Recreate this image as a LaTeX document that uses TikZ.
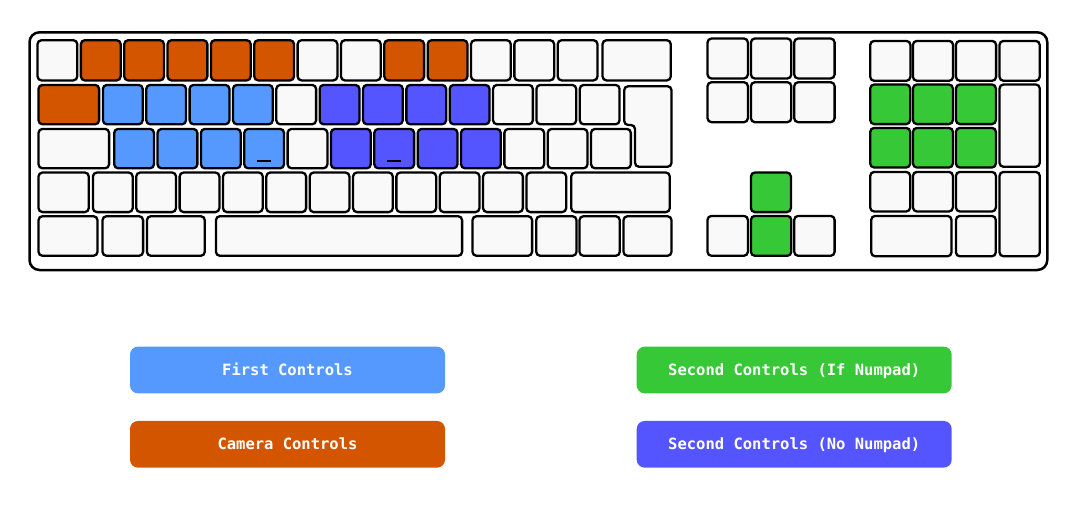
\documentclass[tikz,border=0pt]{standalone}
\usepackage{fontspec}
\setmonofont{DejaVu Sans Mono}
\definecolor{keyw}{HTML}{F9F9F9}
\definecolor{cam}{HTML}{D45500}
\definecolor{first}{HTML}{5599FF}
\definecolor{second}{HTML}{5555FF}
\definecolor{pad}{HTML}{37C837}
\tikzset{
  key/.style={draw=black, fill=keyw, line width=2.3pt, rounded corners=4pt},
  legendbox/.style={rectangle, rounded corners=8pt, minimum width=315pt, minimum height=46.7pt, text height=11.3pt, text depth=0pt, text=white, font=\fontsize{15.5}{18}\selectfont\ttfamily\bfseries}
}
\begin{document}
\begin{tikzpicture}[x=1pt,y=-1pt]
\useasboundingbox (0,0) rectangle (1086,506);
\draw[line width=2.5pt, rounded corners=10pt] (29.5,32.3) rectangle (1047.3,270);
\foreach \c [count=\i from 0] in {keyw,cam,cam,cam,cam,cam,keyw,keyw,cam,cam,keyw,keyw,keyw}
{
    \draw[key, fill=\c] (37.5+43.35*\i,40.2) rectangle ++(39.8,40.2);
}
\draw[key] (602.5,40.2) rectangle (670.8,80.4);
\draw[key, fill=cam] (38.5,84.9) rectangle (99.1,124.3);
\foreach \c [count=\i from 0] in {first,first,first,first,keyw,second,second,second,second,keyw,keyw,keyw}
{
    \draw[key, fill=\c] (102.9+43.35*\i,84.9) rectangle ++(39.8,39.4);
}
\draw[key] (624.2,86.2)--(671.5,86.2)--(671.5,166.8)--(635,166.8)--(635,125)--(624.2,125)--cycle;
\draw[key] (38.5,128.9) rectangle (109.1,168.3);
\foreach \c [count=\i from 0] in {first,first,first,first,keyw,second,second,second,second,keyw,keyw,keyw}
{
    \draw[key, fill=\c] (114.2+43.35*\i,128.9) rectangle ++(39.8,39.4);
}
\draw[line width=2.2pt] (257,161)--(271,161);
\draw[line width=2.2pt] (387,161)--(401,161);
\draw[key] (38.5,172.5) rectangle (88.8,212.1);
\foreach \i in {0,...,10}
{
    \draw[key] (92.9+43.35*\i,172.5) rectangle ++(39.8,39.6);
}
\draw[key] (571.2,172.5) rectangle (669.8,212.1);
\foreach \a/\b in {38.5/97.5,102.5/143.1,146.9/204.8,215.9/462.1,472.5/532.1,536.2/576.5,579.5/619.8,623.5/671.5}
{
    \draw[key] (\a,216.2) rectangle (\b,255.8);
}
\foreach \x in {707.5,750.9,794.2}
{
    \foreach \y in {38.5,82.2}
        \draw[key] (\x,\y) rectangle ++(40.4,40);
}
\draw[key, fill=pad] (750.9,172.5) rectangle ++(40,39.6);
\foreach \x/\c in {707.5/keyw,750.9/pad,794.2/keyw}
{
    \draw[key, fill=\c] (\x,215.9) rectangle ++(40.4,39.9);
}
\foreach \x in {870.2,912.9,955.9,999.5}
{
    \draw[key] (\x,40.9) rectangle ++(40.2,39.9);
}
\foreach \x in {870.2,912.9,955.9}
{
    \foreach \y/\c in {84.5/pad,127.9/pad,171.9/keyw}
        \draw[key, fill=\c] (\x,\y) rectangle ++(40,39.6);
}
\draw[key] (999.5,84.5) rectangle (1039.8,166.8);
\draw[key] (999.5,171.9) rectangle (1039.8,256.3);
\draw[key] (871.2,215.9) rectangle (951.5,256.3);
\draw[key] (955.9,215.9) rectangle (995.8,256.3);
\node[legendbox, fill=first] (firstc) at (287.5,370) {First Controls};
\node[legendbox, fill=cam] (camc) at (287.5,444.3) {Camera Controls};
\node[legendbox, fill=pad] (padc) at (794.2,370) {Second Controls (If Numpad)};
\node[legendbox, fill=second] (nopadc) at (794.2,444.3) {Second Controls (No Numpad)};
\end{tikzpicture}
\end{document}
